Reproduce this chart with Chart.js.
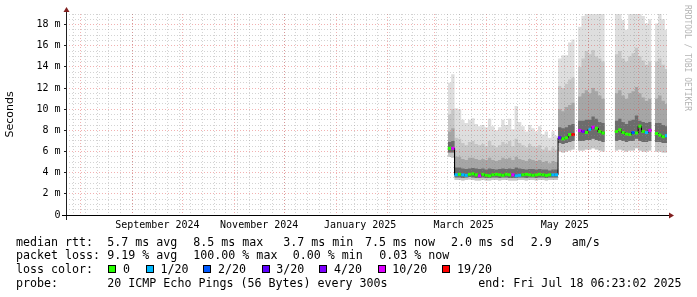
<!DOCTYPE html>
<html><head><meta charset="utf-8">
<script src="https://cdn.jsdelivr.net/npm/chart.js@4.4.1/dist/chart.umd.min.js"></script>
<style>
html,body{margin:0;padding:0;background:#fff;}
#wrap{position:relative;width:697px;height:297px;overflow:hidden;background:#fff;}
canvas{position:absolute;left:0;top:0;}
.t{position:absolute;font-family:"DejaVu Sans Mono",monospace;font-size:11.65px;line-height:14px;white-space:pre;color:#000;}
.box{position:absolute;width:8px;height:8px;box-sizing:border-box;border:1px solid #000;top:265px;}
#wm{position:absolute;left:682px;top:5px;writing-mode:vertical-rl;font-family:"DejaVu Sans Mono",monospace;font-size:8px;line-height:10px;color:#b4b4b4;white-space:pre;}
</style></head><body>
<div id="wrap">
<canvas id="c" width="697" height="297"></canvas>
<div id="wm">RRDTOOL / TOBI OETIKER</div>
<div class="t" style="left:16px;top:234.6px">median rtt:</div>
<div class="t" style="left:107.3px;top:234.6px">5.7 ms avg</div>
<div class="t" style="left:193.3px;top:234.6px">8.5 ms max</div>
<div class="t" style="left:283.3px;top:234.6px">3.7 ms min</div>
<div class="t" style="left:365px;top:234.6px">7.5 ms now</div>
<div class="t" style="left:451px;top:234.6px">2.0 ms sd</div>
<div class="t" style="left:530.7px;top:234.6px">2.9</div>
<div class="t" style="left:571.7px;top:234.6px">am/s</div>
<div class="t" style="left:16px;top:248.2px">packet loss:</div>
<div class="t" style="left:107.3px;top:248.2px">9.19 % avg</div>
<div class="t" style="left:193.3px;top:248.2px">100.00 % max</div>
<div class="t" style="left:292.7px;top:248.2px">0.00 % min</div>
<div class="t" style="left:379.3px;top:248.2px">0.03 % now</div>
<div class="t" style="left:16px;top:262px">loss color:</div>
<div id="lossLegend"></div>
<div class="t" style="left:16px;top:276px">probe:</div>
<div class="t" style="left:107.3px;top:276px">20 ICMP Echo Pings (56 Bytes) every 300s</div>
<div class="t" style="left:478.3px;top:276px">end: Fri Jul 18 06:23:02 2025</div>
</div>
<script>
// ---------- data ----------
const END = Date.UTC(2025, 6, 18, 6, 23, 2);
const SPAN_DAYS = 360;
const START = END - SPAN_DAYS * 864e5;
const binOrigin = '2025-03-09T00:00:00Z';
const binDays = 2;

const median = [6.3, 6.3,
  3.8, 3.85, 3.8, 3.75, 3.85, 3.9, 3.8, 3.7, 3.85, 3.75, 3.7, 3.8, 3.85, 3.8, 3.75, 3.85, 3.8, 3.8, 3.7, 3.75,
  3.8, 3.85, 3.8, 3.75, 3.8, 3.85, 3.8, 3.75, 3.8, 3.8, 3.8,
  7.3, 7.2, 7.3, 7.6, 7.6,
  null,
  8.0, 7.9, 7.8, 8.1, 8.3, 8.2, 7.9, 7.75,
  null, null, null,
  7.9, 8.05, 7.8, 7.65, 7.6, 7.8, 7.75, 8.4, 7.9, 7.8, 8.0,
  null,
  7.7, 7.55, 7.4, 7.5];
const lostPings = [0, 10,
  1, 0, 1, 1, 0, 0, 0, 10, 0, 0, 0, 0, 0, 0, 0, 0, 0, 10, 1, 1,
  0, 0, 0, 0, 0, 0, 0, 0, 0, 1, 1,
  3, 0, 0, 0, 19,
  null,
  10, 4, 0, 1, 10, 0, 0, 0,
  null, null, null,
  0, 0, 0, 0, 0, 2, 0, 0, 0, 1, 10,
  null,
  0, 0, 0, 1];
const smokeMin = [5.5, 5.4,
  3.3, 3.3, 3.25, 3.3, 3.35, 3.3, 3.25, 3.25, 3.3, 3.25, 3.25, 3.3, 3.3, 3.25, 3.3, 3.3, 3.25, 3.25, 3.25, 3.3,
  3.3, 3.25, 3.3, 3.3, 3.25, 3.3, 3.3, 3.25, 3.3, 3.3, 3.3,
  6.0, 5.9, 6.0, 6.1, 6.2,
  null,
  6.1, 6.1, 6.2, 6.2, 6.3, 6.2, 6.1, 6.0,
  null, null, null,
  6.1, 6.2, 6.1, 6.0, 6.1, 6.1, 6.3, 6.1, 6.0, 6.0, 6.1,
  null,
  6.0, 6.0, 5.9, 5.9];
const smokeLow = [5.9, 5.9,
  3.55, 3.55, 3.5, 3.55, 3.6, 3.55, 3.5, 3.5, 3.55, 3.5, 3.5, 3.55, 3.55, 3.5, 3.55, 3.55, 3.5, 3.5, 3.5, 3.55,
  3.55, 3.5, 3.55, 3.55, 3.5, 3.55, 3.55, 3.5, 3.55, 3.55, 3.55,
  6.8, 6.7, 6.8, 6.9, 7.0,
  null,
  7.0, 7.0, 7.1, 7.1, 7.2, 7.1, 7.0, 6.9,
  null, null, null,
  7.0, 7.1, 7.0, 6.9, 7.0, 7.0, 7.2, 7.0, 6.9, 6.9, 7.0,
  null,
  6.9, 6.9, 6.8, 6.8];
const smokeHi1 = [6.9, 7.0,
  4.5, 4.5, 4.4, 4.35, 4.4, 4.45, 4.4, 4.35, 4.4, 4.3, 4.4, 4.35, 4.3, 4.35, 4.4, 4.35, 4.4, 4.35, 4.5, 4.4,
  4.35, 4.3, 4.35, 4.35, 4.3, 4.35, 4.3, 4.3, 4.2, 4.3, 4.3,
  8.3, 8.2, 8.3, 8.5, 8.6,
  null,
  8.9, 8.9, 9.0, 9.0, 9.3, 9.1, 8.8, 8.7,
  null, null, null,
  8.9, 9.1, 8.8, 8.6, 8.9, 9.0, 9.4, 8.9, 8.8, 8.7, 8.8,
  null,
  8.7, 8.7, 8.5, 8.4];
const smokeHi2 = [7.9, 8.2,
  5.5, 5.5, 5.3, 5.2, 5.4, 5.4, 5.3, 5.2, 5.3, 5.2, 5.4, 5.2, 5.1, 5.2, 5.4, 5.3, 5.4, 5.2, 5.5, 5.3,
  5.2, 5.1, 5.3, 5.2, 5.1, 5.2, 5.0, 5.1, 4.9, 5.1, 5.0,
  10.0, 9.8, 10.2, 10.4, 10.6,
  null,
  11.2, 11.5, 11.8, 11.5, 12.0, 11.7, 11.3, 11.0,
  null, null, null,
  11.5, 11.8, 11.3, 11.0, 11.5, 11.7, 12.1, 11.5, 11.1, 10.8, 11.0,
  null,
  11.0, 11.3, 10.8, 10.5];
const smokeHi3 = [9.5, 10.0,
  7.3, 7.2, 6.8, 6.6, 6.9, 7.0, 6.7, 6.6, 6.7, 6.5, 7.0, 6.6, 6.4, 6.6, 6.9, 6.7, 7.0, 6.5, 7.2, 6.8,
  6.6, 6.4, 6.7, 6.5, 6.4, 6.6, 6.2, 6.4, 6.1, 6.4, 6.2,
  12.2, 12.0, 12.4, 12.8, 13.0,
  null,
  14.0, 14.8, 15.5, 15.2, 15.6, 15.0, 14.8, 14.5,
  null, null, null,
  15.2, 15.5, 14.8, 14.5, 15.0, 15.3, 15.8, 15.0, 14.6, 14.2, 14.5,
  null,
  14.5, 14.8, 14.2, 13.8];
const smokeMax = [12.5, 13.3,
  10.1, 10.0, 9.0, 8.7, 9.0, 9.15, 8.6, 8.4, 8.5, 8.3, 9.1, 8.4, 8.0, 8.3, 9.0, 8.5, 9.1, 8.1, 10.3, 8.8,
  8.4, 7.9, 8.5, 8.2, 7.9, 8.4, 7.6, 7.9, 7.3, 7.9, 7.5,
  14.8, 15.1, 15.1, 16.3, 16.6,
  null,
  17.8, 18.8, 19.5, 19.5, 19.5, 19.5, 19.5, 19.5,
  null, null, null,
  19.5, 19.5, 18.4, 17.5, 19.5, 19.5, 19.5, 19.5, 18.8, 18.1, 18.5,
  null,
  18.1, 19.5, 18.5, 17.5];

const lossThresholds = [0, 1, 2, 3, 4, 10, 19];
const lossLabels = ['0', '1/20', '2/20', '3/20', '4/20', '10/20', '19/20'];
const lossColors = ['#26ff00', '#00b8ff', '#0059ff', '#5e00ff', '#7e00ff', '#dd00ff', '#ff0000'];

const yTickValues = [0, 2, 4, 6, 8, 10, 12, 14, 16, 18];
const yTickLabels = ['0', '2 m', '4 m', '6 m', '8 m', '10 m', '12 m', '14 m', '16 m', '18 m'];
const xLabelText = ['September 2024', 'November 2024', 'January 2025', 'March 2025', 'May 2025'];
const xLabelDates = ['2024-09-16T00:00:00Z', '2024-11-16T00:00:00Z', '2025-01-15T12:00:00Z', '2025-03-18T12:00:00Z', '2025-05-18T00:00:00Z'];

// ---------- helpers ----------
const dayOf = ms => (ms - START) / 864e5;
const x0 = dayOf(Date.parse(binOrigin));
function steps(arr) {
  const out = [];
  arr.forEach((v, i) => {
    const a = x0 + i * binDays, b = Math.min(a + binDays, SPAN_DAYS);
    out.push({x: a, y: v}, {x: b, y: v});
  });
  return out;
}
function lossColor(n) {
  let c = lossColors[0];
  lossThresholds.forEach((t, i) => { if (n >= t) c = lossColors[i]; });
  return c;
}

// legend boxes
const legendBoxX = [108.3, 146, 203.3, 261.7, 319.3, 377.7, 442.3];
const ll = document.getElementById('lossLegend');
lossLabels.forEach((lab, i) => {
  const b = document.createElement('div'); b.className = 'box';
  b.style.left = legendBoxX[i] + 'px'; b.style.background = lossColors[i]; ll.appendChild(b);
  const t = document.createElement('div'); t.className = 't';
  t.style.left = (legendBoxX[i] + 14.6) + 'px'; t.style.top = '262px'; t.textContent = lab; ll.appendChild(t);
});

function buildXTicks() {
  const t = [];
  const s = new Date(START);
  let d = Date.UTC(s.getUTCFullYear(), s.getUTCMonth(), s.getUTCDate() + 1);
  while (new Date(d).getUTCDay() !== 0) d += 864e5;
  for (; d < END; d += 7 * 864e5) t.push({value: dayOf(d), kind: 'week'});
  let y = s.getUTCFullYear(), m = s.getUTCMonth() + 1;
  for (;;) { const ms = Date.UTC(y, m, 1); if (ms >= END) break; t.push({value: dayOf(ms), kind: 'month'}); m++; }
  xLabelDates.forEach((str, i) => t.push({value: dayOf(Date.parse(str)), kind: 'label', text: xLabelText[i]}));
  t.sort((a, b) => a.value - b.value);
  return t;
}
function buildYTicks() {
  const t = [];
  for (let i = 0; i <= 38; i++) {
    const v = i / 2;
    const k = yTickValues.indexOf(v);
    t.push({value: v, kind: k >= 0 ? 'major' : 'minor', text: k >= 0 ? yTickLabels[k] : ''});
  }
  return t;
}

const GRID_MINOR = 'rgba(140,140,140,0.38)';
const GRID_MAJOR = 'rgba(225,70,70,0.42)';
const NONE = 'rgba(0,0,0,0)';

const axesPlugin = {
  id: 'rrdAxes',
  afterDraw(chart) {
    const {ctx, chartArea: a} = chart;
    ctx.save();
    ctx.strokeStyle = '#1f1f1f'; ctx.lineWidth = 1;
    ctx.beginPath(); ctx.moveTo(a.left + 0.5, a.bottom + 5); ctx.lineTo(a.left + 0.5, a.top - 3); ctx.stroke();
    ctx.strokeStyle = '#000';
    ctx.beginPath(); ctx.moveTo(a.left - 4, a.bottom + 0.5); ctx.lineTo(a.right + 3, a.bottom + 0.5); ctx.stroke();
    ctx.fillStyle = '#801f1f';
    ctx.beginPath(); ctx.moveTo(a.left + 0.5 - 3, a.top - 2); ctx.lineTo(a.left + 0.5 + 3, a.top - 2); ctx.lineTo(a.left + 0.5, a.top - 7); ctx.closePath(); ctx.fill();
    ctx.beginPath(); ctx.moveTo(a.right + 2, a.bottom + 0.5 - 3); ctx.lineTo(a.right + 2, a.bottom + 0.5 + 3); ctx.lineTo(a.right + 7, a.bottom + 0.5); ctx.closePath(); ctx.fill();
    ctx.restore();
  }
};

const band = (data, fillTarget, color, order) => ({
  data: steps(data), fill: fillTarget, backgroundColor: color, borderColor: NONE, borderWidth: 0,
  pointRadius: 0, order: order, spanGaps: false
});

new Chart(document.getElementById('c'), {
  type: 'line',
  data: {
    datasets: [
      band(smokeMin, false, NONE, 30),
      band(smokeLow, false, NONE, 30),
      band(smokeMax, 0, '#dedede', 14),
      band(smokeHi3, 0, '#c6c6c6', 13),
      band(smokeHi2, 1, '#a6a6a6', 12),
      band(smokeHi1, 1, '#6c6c6c', 11),
      {data: steps(median), borderColor: '#000', borderWidth: 1, pointRadius: 0, fill: false, order: 2, spanGaps: false},
      {data: steps(median), borderWidth: 3, pointRadius: 0, fill: false, order: 1, spanGaps: false,
        borderColor: '#26ff00',
        segment: {borderColor: c => (c.p0DataIndex % 2 === 0) ? lossColor(lostPings[c.p0DataIndex / 2]) : NONE}}
    ]
  },
  options: {
    responsive: false, animation: false, devicePixelRatio: 1,
    layout: {padding: {left: 0, right: 30, top: 14, bottom: 0}},
    plugins: {legend: {display: false}, tooltip: {enabled: false}, title: {display: false}},
    elements: {line: {tension: 0, borderJoinStyle: 'miter', borderCapStyle: 'butt'}},
    scales: {
      x: {
        type: 'linear', min: 0, max: SPAN_DAYS, position: 'bottom',
        afterBuildTicks: s => { s.ticks = buildXTicks(); },
        afterFit: s => { s.height = 82; },
        grid: {
          z: 1, drawTicks: false, lineWidth: 1,
          color: c => c.tick && c.tick.kind === 'month' ? GRID_MAJOR : (c.tick && c.tick.kind === 'week' ? GRID_MINOR : NONE)
        },
        border: {display: false, dash: [1, 2]},
        ticks: {
          autoSkip: false, maxRotation: 0, minRotation: 0, padding: 4, color: '#000',
          font: {family: 'DejaVu Sans Mono', size: 10},
          callback: function (v, i, ticks) { return ticks[i].kind === 'label' ? ticks[i].text : ''; }
        }
      },
      y: {
        type: 'linear', min: 0, max: 19, position: 'left',
        afterBuildTicks: s => { s.ticks = buildYTicks(); },
        afterFit: s => { s.width = 66; },
        grid: {
          z: 1, drawTicks: true, tickLength: 2, lineWidth: 1,
          color: c => (!c.tick || c.tick.value === 0) ? NONE : (c.tick.kind === 'major' ? GRID_MAJOR : GRID_MINOR),
          tickColor: c => (c.tick && c.tick.kind === 'major') ? '#1f1f1f' : NONE
        },
        border: {display: false, dash: [1, 2]},
        ticks: {
          autoSkip: false, padding: 3.5, color: '#000',
          font: {family: 'DejaVu Sans Mono', size: 10},
          callback: function (v, i, ticks) { return ticks[i].text; }
        },
        title: {display: true, text: 'Seconds', color: '#000', font: {family: 'DejaVu Sans', size: 11}, padding: {top: 4, bottom: 0}}
      }
    }
  },
  plugins: [axesPlugin]
});
</script>
</body></html>
